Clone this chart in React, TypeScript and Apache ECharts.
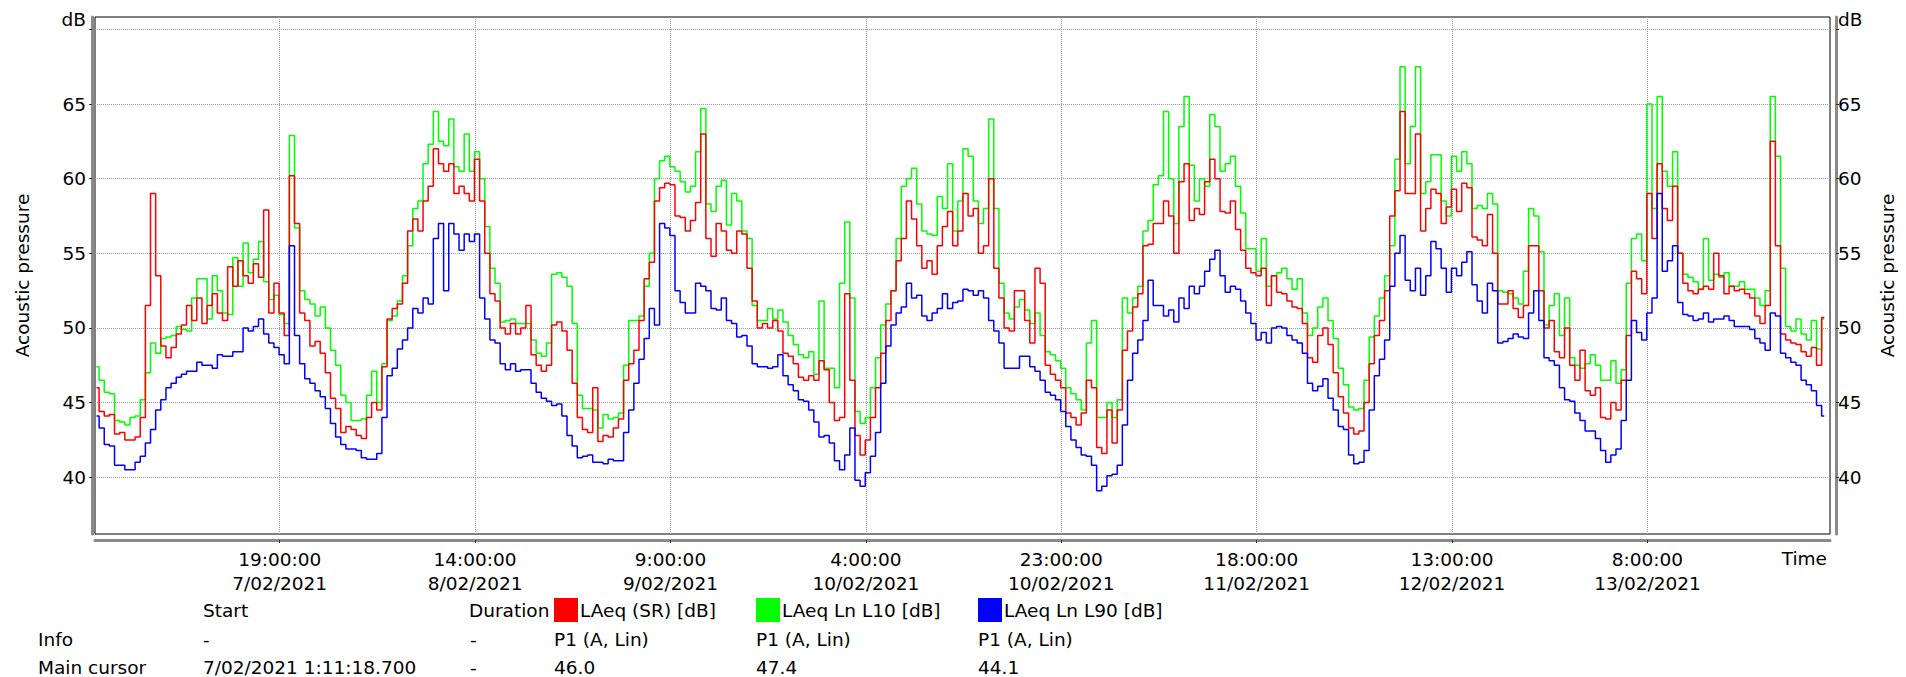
import React, { useEffect, useRef } from "react";
import * as echarts from "echarts";

// ---------- data ----------
const seriesNames = ["LAeq (SR) [dB]", "LAeq Ln L10 [dB]", "LAeq Ln L90 [dB]"];
const seriesColors = ["#ff0000", "#00ff00", "#0000ff"];

// first sample: 7/02/2021 1:11:18.700, expressed in hours after 7/02/2021 0:00
const startHour = 1.1885;
const stepHours = 0.5;

const laeq = [
  46.0, 44.4, 44.1, 44.2, 42.9, 43.0, 42.5, 42.5, 42.7, 44.0, 51.5, 59.0, 53.5, 48.8, 48.0, 48.7, 49.6, 50.2, 51.5, 50.5, 52.0, 50.3, 51.5, 52.3, 51.0, 50.5, 54.1, 52.8, 54.5, 53.5, 53.0, 54.3, 53.4, 57.9, 51.0, 53.0, 51.0, 49.5, 60.2, 57.0, 51.0, 50.5, 48.8, 49.1, 48.3, 47.0, 45.3, 44.6, 43.0, 43.4, 43.2, 42.8, 42.6, 44.0, 45.0, 44.5, 47.4,
  50.6, 51.3, 51.6, 53.0, 56.5, 57.3, 56.5, 58.5, 59.5, 62.0, 61.0, 60.5, 61.0, 59.0, 59.5, 59.0, 58.5, 61.3, 58.5, 55.0, 52.3, 51.8, 50.0, 49.6, 50.3, 49.6, 50.0, 51.5, 48.2, 47.5, 47.1, 47.5, 50.2, 50.4, 49.8, 48.5, 46.3, 44.0, 43.2, 43.0, 46.0, 42.4, 42.8, 42.7, 43.3, 43.9, 46.5, 47.6, 48.5, 50.5, 53.3, 54.4, 58.5, 59.4, 59.7, 59.6,
  57.5, 57.4, 56.5, 57.2, 58.4, 63.0, 56.0, 54.8, 57.0, 56.5, 55.2, 55.0, 56.5, 56.3, 54.0, 51.8, 50.0, 50.3, 50.0, 50.5, 49.8, 48.3, 48.1, 47.6, 46.7, 46.5, 46.8, 46.5, 47.8, 47.2, 45.0, 43.8, 44.0, 52.3, 46.5, 42.8, 41.5, 42.5, 44.0, 46.0, 48.3, 50.5, 52.5, 54.5, 56.0, 58.5, 57.3, 55.5, 54.0, 54.5, 53.6, 55.5, 56.8, 57.8, 55.5, 56.5,
  59.0, 57.5, 58.0, 55.0, 55.5, 60.0, 54.0, 52.0, 50.0, 49.8, 52.5, 52.5, 50.5, 49.0, 54.0, 53.0, 47.5, 46.9, 46.5, 46.0, 44.3, 44.0, 43.5, 44.3, 46.5, 46.0, 42.0, 41.6, 44.5, 42.3, 44.5, 48.5, 49.8, 51.4, 52.3, 55.5, 55.6, 57.0, 57.0, 58.5, 57.5, 55.0, 59.8, 61.0, 57.2, 58.0, 57.6, 59.8, 61.3, 60.0, 57.8, 57.7, 58.5, 56.6, 55.2, 54.0, 53.7,
  53.5, 54.0, 51.5, 53.5, 52.4, 52.3, 51.8, 51.4, 51.3, 50.3, 48.0, 47.7, 49.5, 50.0, 48.9, 47.0, 45.4, 44.3, 43.3, 42.9, 43.1, 45.0, 47.6, 49.5, 50.5, 52.5, 57.5, 59.2, 64.5, 59.0, 59.0, 63.0, 56.5, 58.0, 59.3, 59.0, 57.0, 58.1, 59.3, 57.8, 59.7, 59.4, 56.1, 55.9, 55.5, 57.6, 55.0, 51.6, 51.6, 52.5, 51.3, 50.7, 51.5, 55.5, 55.5, 52.5,
  50.0, 50.5, 48.4, 48.0, 50.0, 47.5, 46.5, 48.5, 45.8, 45.5, 46.0, 44.0, 43.9, 45.0, 44.5, 46.5, 49.5, 53.8, 53.3, 52.3, 59.0, 56.0, 61.0, 58.0, 57.2, 59.5, 55.0, 53.0, 52.5, 52.3, 52.6, 52.8, 52.6, 55.0, 53.5, 52.3, 52.8, 52.5, 52.6, 52.3, 52.0, 50.8, 50.3, 51.5, 62.5, 55.5, 49.6, 49.2, 49.0, 48.9, 48.4, 48.1, 48.7, 47.5, 50.7,
];

const l10 = [
  47.4, 46.5, 45.7, 45.6, 43.8, 43.7, 43.5, 44.0, 44.1, 45.2, 47.0, 49.0, 48.3, 49.3, 49.4, 49.5, 50.1, 49.9, 49.8, 52.0, 53.3, 53.3, 50.6, 53.5, 52.5, 51.0, 50.9, 54.7, 52.8, 55.7, 53.7, 54.6, 55.8, 53.1, 51.9, 52.2, 50.9, 50.3, 62.9, 56.7, 52.5, 51.9, 51.6, 50.8, 51.4, 50.0, 48.5, 47.5, 45.5, 45.0, 43.8, 43.8, 43.9, 45.5, 47.1, 45.0, 47.6,
  50.5, 50.8, 51.8, 53.5, 55.5, 58.0, 58.5, 61.0, 62.3, 64.5, 62.5, 62.2, 64.0, 60.8, 60.5, 63.0, 60.5, 61.8, 60.0, 56.8, 54.0, 53.0, 50.4, 50.5, 50.6, 50.3, 50.3, 50.3, 49.2, 48.3, 48.1, 49.0, 53.6, 53.7, 53.4, 52.8, 50.3, 45.5, 44.6, 44.6, 44.5, 43.3, 44.2, 43.9, 44.0, 44.3, 47.5, 50.5, 50.5, 50.8, 52.8, 55.0, 60.0, 61.2, 61.5, 60.8,
  60.5, 59.8, 59.1, 59.5, 61.8, 64.7, 58.3, 57.8, 59.5, 59.9, 56.9, 59.0, 58.5, 56.5, 56.0, 51.5, 50.5, 50.5, 51.3, 50.6, 51.2, 50.4, 49.5, 48.9, 48.2, 48.0, 48.4, 46.9, 51.8, 47.3, 47.3, 46.0, 53.0, 57.1, 52.0, 44.4, 43.6, 44.0, 46.0, 48.0, 50.2, 51.6, 52.5, 56.0, 59.5, 60.0, 60.7, 58.3, 56.5, 56.3, 56.2, 58.8, 58.0, 61.0, 56.5, 58.5,
  62.0, 61.5, 58.5, 57.0, 58.0, 64.0, 58.0, 53.0, 51.0, 50.6, 51.4, 51.9, 51.2, 50.3, 51.0, 49.5, 48.4, 48.2, 47.8, 47.3, 46.0, 45.6, 45.2, 44.5, 49.0, 50.5, 44.0, 44.0, 45.0, 44.0, 45.2, 52.0, 51.0, 52.0, 52.8, 56.5, 57.2, 59.6, 60.2, 64.5, 60.0, 57.0, 63.5, 65.5, 60.9, 58.5, 60.0, 59.5, 64.3, 63.5, 60.5, 61.0, 61.5, 59.5, 57.7, 55.3, 55.3,
  53.8, 56.0, 52.8, 53.5, 53.7, 54.0, 53.3, 52.6, 53.3, 51.0, 49.5, 50.0, 51.4, 52.0, 50.5, 49.3, 47.3, 46.2, 44.7, 44.5, 44.6, 46.5, 49.4, 50.8, 52.0, 53.5, 55.5, 61.3, 67.5, 61.0, 63.5, 67.5, 59.0, 59.8, 61.6, 61.6, 58.5, 57.5, 61.5, 60.5, 61.8, 61.0, 58.0, 58.2, 58.0, 59.0, 58.3, 52.5, 52.4, 52.3, 52.0, 51.6, 53.8, 58.0, 57.5, 55.1,
  50.2, 51.5, 52.3, 49.5, 52.0, 48.0, 47.5, 47.3, 47.6, 48.2, 47.5, 46.5, 46.5, 47.8, 46.3, 47.2, 53.0, 56.0, 56.3, 54.5, 65.0, 58.0, 65.5, 60.5, 59.5, 61.8, 55.0, 53.6, 53.4, 53.1, 52.6, 56.0, 53.2, 53.6, 53.4, 53.7, 52.8, 52.8, 53.1, 52.6, 52.6, 52.0, 51.5, 52.5, 65.5, 61.5, 54.0, 50.1, 49.8, 50.6, 49.6, 49.2, 50.5, 48.6, 50.6,
];

const l90 = [
  44.1, 43.3, 42.2, 42.1, 40.8, 40.8, 40.5, 40.5, 41.0, 41.4, 42.3, 43.2, 44.5, 45.2, 46.0, 46.3, 46.7, 46.9, 47.1, 47.1, 47.7, 47.5, 47.5, 47.3, 48.2, 48.1, 48.1, 48.4, 48.4, 50.0, 49.8, 50.1, 50.6, 49.6, 49.0, 48.7, 48.2, 47.6, 55.5, 49.5, 47.6, 46.6, 46.3, 45.8, 45.4, 44.6, 43.6, 42.7, 42.2, 41.9, 41.9, 41.8, 41.3, 41.2, 41.2, 41.6, 44.0,
  46.8, 47.3, 48.6, 49.2, 50.0, 51.3, 51.0, 52.0, 51.6, 56.0, 57.0, 52.5, 57.0, 56.3, 55.2, 56.3, 55.8, 56.3, 52.0, 50.6, 49.2, 49.0, 47.6, 47.2, 47.6, 47.1, 47.2, 47.2, 46.3, 45.7, 45.3, 45.1, 44.8, 44.9, 44.1, 42.8, 42.1, 41.3, 41.4, 41.5, 41.0, 41.0, 40.9, 41.2, 41.1, 41.1, 43.0, 44.5, 46.3, 47.9, 49.3, 51.3, 50.2, 57.0, 56.7, 56.2,
  52.5, 51.7, 51.0, 51.0, 53.0, 52.8, 52.5, 51.3, 51.2, 52.0, 50.5, 50.3, 49.4, 49.5, 48.8, 47.6, 47.4, 47.4, 47.3, 47.4, 48.2, 46.8, 46.2, 45.8, 45.2, 45.1, 44.5, 43.7, 42.7, 42.8, 42.3, 41.1, 40.5, 41.5, 43.3, 39.8, 39.4, 40.3, 41.4, 43.0, 46.3, 48.8, 50.2, 51.0, 51.4, 53.0, 52.0, 52.2, 50.8, 50.5, 51.0, 51.3, 52.3, 51.3, 51.7, 51.8,
  52.6, 52.5, 52.2, 52.5, 52.0, 50.5, 49.8, 49.0, 47.3, 47.3, 47.3, 48.1, 48.1, 47.4, 47.1, 46.5, 45.7, 45.5, 45.2, 44.4, 43.4, 42.5, 42.0, 41.5, 41.4, 40.8, 39.1, 39.4, 40.1, 40.2, 40.8, 43.5, 46.5, 48.3, 49.2, 50.5, 53.2, 51.5, 51.5, 50.8, 51.2, 50.4, 52.0, 51.3, 52.8, 52.3, 52.8, 53.8, 54.6, 55.2, 53.5, 52.4, 52.8, 52.6, 51.8, 51.0, 50.3,
  49.2, 49.7, 49.0, 50.0, 50.1, 50.0, 49.5, 49.2, 49.0, 48.3, 46.3, 45.8, 46.1, 46.6, 45.3, 44.5, 43.4, 43.2, 41.5, 40.9, 41.0, 41.8, 44.5, 46.8, 47.9, 49.2, 52.8, 55.0, 56.2, 53.2, 52.5, 54.0, 52.2, 53.5, 55.8, 55.3, 54.0, 52.4, 54.0, 53.5, 54.4, 55.1, 52.9, 51.8, 51.0, 53.0, 52.5, 49.0, 49.1, 49.3, 49.6, 49.4, 49.3, 51.0, 52.5, 50.5,
  48.0, 47.8, 47.5, 46.0, 45.2, 45.1, 44.3, 43.8, 43.1, 43.1, 42.6, 41.8, 41.0, 41.5, 41.9, 43.8, 46.5, 50.5, 49.7, 49.2, 51.0, 52.0, 59.0, 53.8, 54.5, 55.5, 51.7, 50.9, 50.8, 50.5, 50.6, 51.0, 50.4, 50.6, 50.6, 50.8, 50.5, 50.1, 50.1, 50.1, 49.9, 49.3, 49.0, 48.5, 51.0, 50.8, 48.3, 48.0, 47.7, 47.5, 46.5, 46.2, 45.8, 44.8, 44.1,
];

// axis ticks / labels
const yTickValues = [40, 45, 50, 55, 60, 65, 70];
const yLabelValues = [40, 45, 50, 55, 60, 65];
const xTickHours = [19, 38, 57, 76, 95, 114, 133, 152];
const xTickLabels = [
  "19:00:00\n7/02/2021",
  "14:00:00\n8/02/2021",
  "9:00:00\n9/02/2021",
  "4:00:00\n10/02/2021",
  "23:00:00\n10/02/2021",
  "18:00:00\n11/02/2021",
  "13:00:00\n12/02/2021",
  "8:00:00\n13/02/2021",
];

// info table below the chart
const tableHeader = ["Start", "Duration"];
const rowTitles = ["Info", "Main cursor"];
const infoRow = ["-", "-", "P1 (A, Lin)", "P1 (A, Lin)", "P1 (A, Lin)"];
const cursorRow = ["7/02/2021 1:11:18.700", "-", "46.0", "47.4", "44.1"];

const FONT = '"DejaVu Sans", Verdana, sans-serif';
const FS = 18.5;

export default function App() {
  const ref = useRef<HTMLDivElement>(null);

  useEffect(() => {
    if (!ref.current) return;
    const chart = echarts.init(ref.current, undefined, { renderer: "svg" });

    const toPairs = (arr: number[]) => arr.map((v, i) => [startHour + i * stepHours, v]);
    const valuesBySeries = [laeq, l10, l90];

    const colX = [203, 469, 554, 756, 978];
    const rowY = [610, 639, 667];
    const txt = (text: string, x: number, y: number, align = "left") => ({
      type: "text",
      x,
      y,
      silent: true,
      style: {
        text,
        fill: "#000",
        font: `${FS}px ${FONT}`,
        align,
        verticalAlign: "middle",
        textAlign: align,
        textVerticalAlign: "middle",
      },
    });

    const graphics: any[] = [
      txt("dB", 86, 19, "right"),
      txt("dB", 1838, 19, "left"),
      txt(tableHeader[0], colX[0], rowY[0]),
      txt(tableHeader[1], colX[1], rowY[0]),
      txt(rowTitles[0], 38, rowY[1]),
      txt(rowTitles[1], 38, rowY[2]),
    ];
    infoRow.forEach((t, i) => graphics.push(txt(t, colX[i] + (i === 1 ? 1 : 0), rowY[1])));
    cursorRow.forEach((t, i) => graphics.push(txt(t, colX[i] + (i === 1 ? 1 : 0), rowY[2])));

    const legendLeft = [554, 756, 978];

    const yAxisBase = (side: "left" | "right") => ({
      type: "value",
      position: side,
      min: 36.2,
      max: 70.83,
      offset: side === "left" ? 3 : 6,
      name: "Acoustic pressure",
      nameLocation: "middle",
      nameRotate: 90,
      nameGap: side === "left" ? 60 : 42,
      nameTextStyle: { fontFamily: FONT, fontSize: FS, color: "#000" },
      axisLine: { show: true, lineStyle: { color: "#8a8a8a", width: 3 } },
      axisTick: {
        show: true,
        length: 3,
        customValues: yTickValues,
        lineStyle: { color: "#333", width: 1 },
      },
      axisLabel: {
        show: true,
        customValues: yLabelValues,
        margin: side === "left" ? 6 : 2,
        color: "#000",
        fontFamily: FONT,
        fontSize: FS,
      },
      splitLine: {
        show: side === "left",
        lineStyle: { color: "#9a9a9a", width: 1, type: [1, 1] },
      },
    });

    chart.setOption({
      animation: false,
      textStyle: { fontFamily: FONT, fontSize: FS, color: "#000" },
      grid: {
        left: 95,
        top: 17,
        width: 1735,
        height: 517,
        show: true,
        borderColor: "#000",
        borderWidth: 1,
        backgroundColor: "#fff",
      },
      legend: seriesNames.map((name, i) => ({
        data: [name],
        left: legendLeft[i],
        top: 598,
        padding: 0,
        itemWidth: 24,
        itemHeight: 24,
        itemGap: 0,
        icon: "rect",
        selectedMode: false,
        textStyle: { fontFamily: FONT, fontSize: FS, color: "#000", padding: [0, 0, 0, -3] },
      })),
      xAxis: {
        type: "value",
        min: 1.04,
        max: 169.75,
        offset: 6,
        name: "Time",
        nameLocation: "end",
        nameGap: -3,
        nameTextStyle: {
          fontFamily: FONT,
          fontSize: FS,
          color: "#000",
          align: "right",
          verticalAlign: "top",
          padding: [9, 0, 0, 0],
        },
        axisLine: { show: true, onZero: false, lineStyle: { color: "#8a8a8a", width: 3 } },
        axisTick: {
          show: true,
          length: 3,
          customValues: xTickHours,
          lineStyle: { color: "#333", width: 1 },
        },
        axisLabel: {
          show: true,
          customValues: xTickHours,
          margin: 7,
          lineHeight: 24,
          color: "#000",
          fontFamily: FONT,
          fontSize: FS,
          formatter: (v: number) => {
            const idx = xTickHours.findIndex((h) => Math.abs(h - v) < 1e-6);
            return idx >= 0 ? xTickLabels[idx] : "";
          },
        },
        splitLine: {
          show: true,
          lineStyle: { color: "#9a9a9a", width: 1, type: [1, 1] },
        },
      },
      yAxis: [yAxisBase("left"), yAxisBase("right")],
      graphic: graphics,
      series: [1, 0, 2].map((k) => ({
        name: seriesNames[k],
        type: "line",
        step: "middle",
        showSymbol: false,
        symbol: "none",
        silent: true,
        data: toPairs(valuesBySeries[k]),
        itemStyle: { color: seriesColors[k] },
        lineStyle: { color: seriesColors[k], width: 1.5 },
        emphasis: { disabled: true },
      })),
    });

    return () => chart.dispose();
  }, []);

  return (
    <div
      ref={ref}
      style={{ position: "absolute", left: 0, top: 0, width: 1906, height: 677, background: "#fff" }}
    />
  );
}
